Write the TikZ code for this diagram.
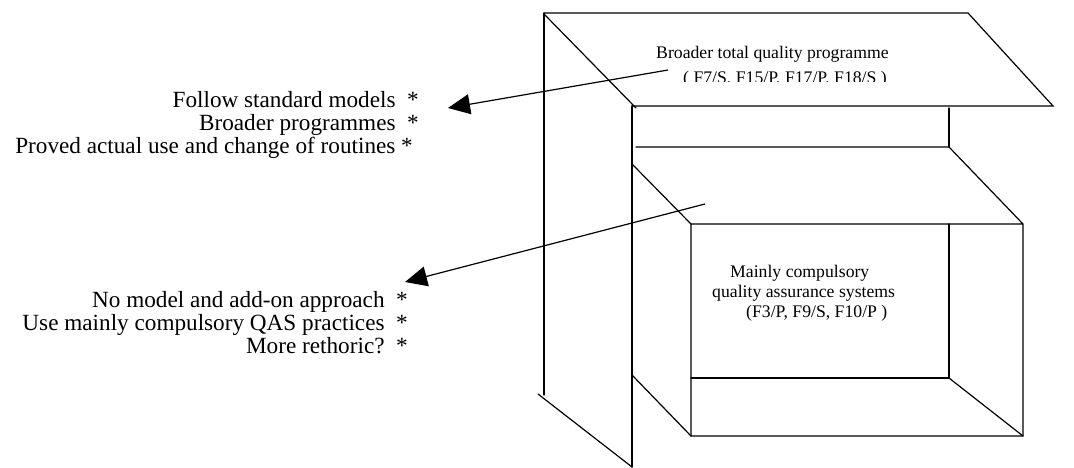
\documentclass[tikz,border=0pt]{standalone}
\usepackage{fontspec}
\setmainfont{Liberation Serif}
\usetikzlibrary{arrows.meta}
\begin{document}
\begin{tikzpicture}[x=1pt,y=-1pt,
  edge/.style={line width=1.2pt,line cap=round,line join=miter},
  pointer/.style={line width=1.2pt,-{Triangle[length=22pt,width=20pt]}},
  sidetext/.style={font=\fontsize{23.2}{27}\selectfont,anchor=base east,inner sep=0pt},
  boxtext/.style={font=\fontsize{17.7}{20}\selectfont,anchor=base west,inner sep=0pt}]
\useasboundingbox (0,0) rectangle (1074,468);
% outer panel and roof
\draw[edge] (544,13) -- (544,395);
\draw[edge] (538,394) -- (632,467);
\draw[edge] (544,13) -- (968,13) -- (1053,106) -- (632,106);
\draw[edge] (544,14) -- (636,108);
\draw[edge] (632,106) -- (632,467);
\draw[edge] (949,108) -- (949,147);
\draw[edge] (636,147) -- (949,147) -- (1023,224) -- (1023,436) -- (691,436) -- (691,224) -- (1023,224);
\draw[edge] (632,164) -- (691,224);
\draw[edge] (949,224) -- (949,378) -- (691,378);
\draw[edge] (949,378) -- (1023,436);
\draw[edge] (632,375) -- (691,436);
% box texts
\node[boxtext] (t1) at (656,59) {Broader total quality programme};
\begin{scope}
\clip (600,60) rectangle (1000,81.5);
\node[boxtext] (t2) at (683,84) {( F7/S, F15/P, F17/P, F18/S )};
\end{scope}
\node[boxtext] (m1) at (730,277) {Mainly compulsory};
\node[boxtext] (m2) at (712,297) {quality assurance systems};
\node[boxtext] (m3) at (746,317) {(F3/P, F9/S, F10/P )};
% side texts
\node[sidetext] (a1) at (419,108) {Follow standard models\ \ *};
\node[sidetext] (a2) at (419,131) {Broader programmes\ \ *};
\node[sidetext] (a3) at (413,154) {Proved actual use and change of routines *};
\node[sidetext] (b1) at (408,307) {No model and add-on approach\ \ *};
\node[sidetext] (b2) at (408,330) {Use mainly compulsory QAS practices\ \ *};
\node[sidetext] (b3) at (408,353) {More rethoric?\ \ *};
% arrows
\coordinate (s1) at (668,70);
\coordinate (e1) at (448,108);
\coordinate (s2) at (705,204);
\coordinate (e2) at (405,282);
\draw[pointer] (s1) -- (e1);
\draw[pointer] (s2) -- (e2);
\end{tikzpicture}
\end{document}
